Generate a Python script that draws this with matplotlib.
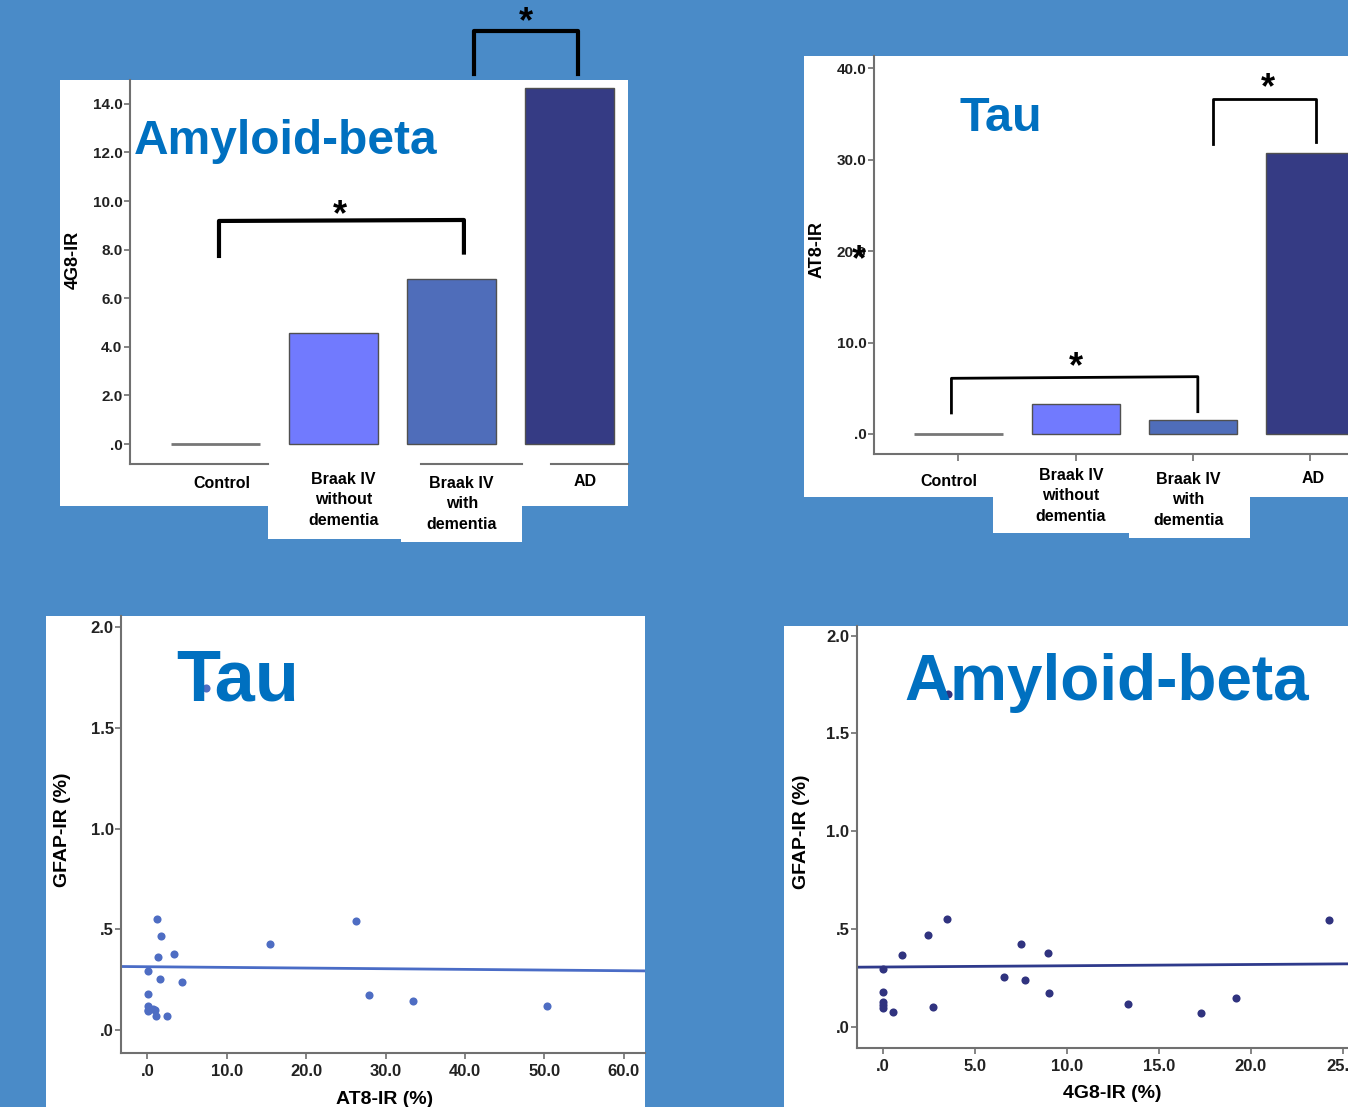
import numpy as np
import matplotlib
matplotlib.use('Agg')
import matplotlib.pyplot as plt
from matplotlib.patches import Rectangle
from matplotlib.transforms import blended_transform_factory

plt.rcParams['font.family'] = ['Liberation Sans', 'DejaVu Sans']
plt.rcParams['font.weight'] = 'bold'

# ---- data ----
grupos = ['Control', 'Braak IV\nwithout\ndementia', 'Braak IV\nwith\ndementia', 'AD']
ag_4g8 = [0.02, 4.56, 6.79, 14.66]      # 4G8-IR (amyloid-beta)
ag_at8 = [0.02, 3.25, 1.53, 30.7]       # AT8-IR (tau)
bar_colores = ['white', '#717AFE', '#4F6DBA', '#353B84']

# corchetes de significancia: (x_izq, x_der, y_arriba_izq, y_arriba_der, y_abajo_izq, y_abajo_der)
corchetes_4g8 = [(0.03, 2.108, 9.18, 9.22, 7.74, 7.88), (2.196, 3.078, 17.0, 17.0, 15.24, 15.24)]
estrellas_4g8 = [(1.055, 9.63), (2.63, 17.6)]
corchetes_at8 = [(-0.06, 2.04, 6.09, 6.27, 2.30, 2.44), (2.17, 3.05, 36.6, 36.6, 31.7, 31.9)]
estrellas_at8 = [(1.0, 7.9), (2.635, 38.4), (-0.846, 19.6)]

# scatter GFAP vs AT8
at8_x = [7.38, 1.17, 1.67, 1.38, 3.35, 0.04, 1.59, 4.32, 0.04, 0.04, 0.12, 0.74, 0.04, 1.0,
         1.08, 2.51, 15.42, 26.27, 27.95, 33.49, 50.26]
gfap_tau = [1.70, 0.551, 0.467, 0.363, 0.376, 0.295, 0.253, 0.238, 0.179, 0.119, 0.099, 0.103,
            0.092, 0.10, 0.071, 0.071, 0.426, 0.543, 0.174, 0.146, 0.119]
ajuste_tau = (0.314, -0.00033)   # intercepto, pendiente

# scatter GFAP vs 4G8
g48_x = [3.55, 0.0, 0.0, 0.0, 0.0, 0.0, 0.52, 1.02, 2.46, 2.73, 3.45, 6.6, 7.49, 7.69, 8.95,
         9.0, 13.3, 17.3, 19.22, 24.28]
gfap_ab = [1.70, 0.295, 0.179, 0.128, 0.111, 0.094, 0.074, 0.366, 0.468, 0.101, 0.551, 0.253,
           0.425, 0.236, 0.376, 0.174, 0.118, 0.072, 0.145, 0.543]
ajuste_ab = (0.305, 0.00064)

# ---- figura ----
W, H = 1348, 1107
fondo = '#4A8BC8'
titulo_color = '#0070C0'
eje_color = '#707070'
fig = plt.figure(figsize=(W / 100, H / 100), dpi=100, facecolor=fondo)


def caja(x0, y0, x1, y1):
    fig.add_artist(Rectangle((x0 / W, 1 - y1 / H), (x1 - x0) / W, (y1 - y0) / H,
                             transform=fig.transFigure, facecolor='white',
                             edgecolor='none', zorder=-5))


def ejes(x0, y0, x1, y1):
    ax = fig.add_axes([x0 / W, 1 - y1 / H, (x1 - x0) / W, (y1 - y0) / H])
    ax.patch.set_visible(False)
    for s in ['top', 'right']:
        ax.spines[s].set_visible(False)
    for s in ['left', 'bottom']:
        ax.spines[s].set_color(eje_color)
        ax.spines[s].set_linewidth(1.5)
    ax.tick_params(colors=eje_color, labelcolor='#222222', width=1.2, length=4, pad=1.5)
    return ax


def texto(x, y, s, **kw):
    fig.text(x / W, 1 - y / H, s, **kw)


def fmt(v):
    s = '%.1f' % v
    return s[1:] if s.startswith('0') else s


# cajas blancas
caja(60, 80, 628, 506); caja(268, 480, 401, 539); caja(401, 480, 522, 542)
caja(804, 56, 1348, 497); caja(993, 480, 1129, 533); caja(1129, 480, 1250, 538)
caja(46, 616, 645, 1107)
caja(784, 626, 1348, 1107)

# ---- panel 1: 4G8 barras ----
ax1 = ejes(130, 80, 628, 464)
x = np.arange(len(grupos))
ax1.bar(x, ag_4g8, width=0.755, color=bar_colores, edgecolor=['#777777', '#505050', '#505050', '#505050'],
        linewidth=[2, 1, 1, 1])
ax1.set_xlim(-0.725, 3.5)
ax1.set_ylim(-0.82, 14.98)
yt = np.arange(0, 15, 2.0)
ax1.set_yticks(yt, [fmt(v) for v in yt], fontsize=11, fontweight='bold')
ax1.set_xticks([])
ax1.spines['bottom'].set_visible(False)
for a, b in [(130, 268), (421, 522), (551, 628)]:
    ax1.plot([(a - 130) / 498, (b - 130) / 498], [0, 0], color=eje_color, lw=1.5,
             transform=ax1.transAxes, clip_on=False)
tr1 = blended_transform_factory(ax1.transData, fig.transFigure)
for i, (lab, dx, yp) in enumerate(zip(grupos, [0.055, 0.086, 0.089, 0.136], [484, 500, 504, 482])):
    ax1.text(i + dx, 1 - yp / H, lab, transform=tr1, ha='center', va='center',
             fontsize=11.5, fontweight='bold', linespacing=1.42)
for xl, xr, ytl, ytr, ybl, ybr in corchetes_4g8:
    ax1.plot([xl, xl, xr, xr], [ybl, ytl, ytr, ybr], color='black', lw=3, clip_on=False)
for xs, ys in estrellas_4g8:
    ax1.text(xs, ys - 0.25, '*', ha='center', va='center', fontsize=26, fontweight='bold')
texto(73, 260, '4G8-IR', rotation=90, ha='center', va='center', fontsize=13, fontweight='bold')
texto(134, 154, 'Amyloid-beta', color=titulo_color, fontsize=34.5, fontweight='bold', va='baseline')

# ---- panel 2: AT8 barras ----
ax2 = ejes(874, 56, 1348, 454)
ax2.bar(x, ag_at8, width=0.755, color=bar_colores, edgecolor=['#777777', '#505050', '#505050', '#505050'],
        linewidth=[2, 1, 1, 1])
ax2.set_xlim(-0.72, 3.32)
ax2.set_ylim(-2.19, 41.35)
yt = np.arange(0, 41, 10.0)
ax2.set_yticks(yt, [fmt(v) for v in yt], fontsize=11, fontweight='bold')
ax2.set_xticks(x, [''] * 4)
ax2.tick_params(axis='x', length=5)
tr2 = blended_transform_factory(ax2.transData, fig.transFigure)
for i, (lab, dx, yp) in enumerate(zip(grupos, [-0.08, -0.04, -0.04, 0.02], [481, 496, 500, 478])):
    ax2.text(i + dx, 1 - yp / H, lab, transform=tr2, ha='center', va='center',
             fontsize=11.5, fontweight='bold', linespacing=1.42)
for xl, xr, ytl, ytr, ybl, ybr in corchetes_at8:
    ax2.plot([xl, xl, xr, xr], [ybl, ytl, ytr, ybr], color='black', lw=2, clip_on=False)
for xs, ys in estrellas_at8:
    ax2.text(xs, ys - 0.66, '*', ha='center', va='center', fontsize=26, fontweight='bold', clip_on=False)
texto(817, 250, 'AT8-IR', rotation=90, ha='center', va='center', fontsize=13, fontweight='bold')
texto(959, 131, 'Tau', color=titulo_color, fontsize=35, fontweight='bold', va='baseline')

# ---- panel 3: GFAP vs AT8 ----
ax3 = ejes(121.4, 616, 645, 1052.7)
ax3.scatter(at8_x, gfap_tau, s=34, color='#4E6DC3', linewidths=0, zorder=3)
xx = np.array([-3.27, 62.66])
ax3.plot(xx, ajuste_tau[0] + ajuste_tau[1] * xx, color='#4A6CC6', lw=2)
ax3.set_xlim(-3.27, 62.66)
ax3.set_ylim(-0.113, 2.056)
yt = np.arange(0, 2.01, 0.5)
ax3.set_yticks(yt, [fmt(v) for v in yt], fontsize=12, fontweight='bold')
xt = np.arange(0, 61, 10.0)
ax3.set_xticks(xt, [fmt(v) for v in xt], fontsize=12, fontweight='bold')
ax3.tick_params(axis='x', pad=4)
texto(63, 830, 'GFAP-IR (%)', rotation=90, ha='center', va='center', fontsize=14, fontweight='bold')
texto(385, 1099, 'AT8-IR (%)', ha='center', va='center', fontsize=14, fontweight='bold')
texto(176, 700.7, 'Tau', color=titulo_color, fontsize=52, fontweight='bold', va='baseline')

# ---- panel 4: GFAP vs 4G8 ----
ax4 = ejes(857.1, 626, 1348, 1048.3)
ax4.scatter(g48_x, gfap_ab, s=34, color='#30337F', linewidths=0, zorder=3)
xx = np.array([-1.42, 25.29])
ax4.plot(xx, ajuste_ab[0] + ajuste_ab[1] * xx, color='#2F3A8C', lw=2)
ax4.set_xlim(-1.42, 25.29)
ax4.set_ylim(-0.111, 2.05)
ax4.set_yticks(yt, [fmt(v) for v in yt], fontsize=12, fontweight='bold')
xt = np.arange(0, 26, 5.0)
ax4.set_xticks(xt, [fmt(v) for v in xt], fontsize=12, fontweight='bold')
ax4.tick_params(axis='x', pad=4)
texto(802, 832, 'GFAP-IR (%)', rotation=90, ha='center', va='center', fontsize=14, fontweight='bold')
texto(1112, 1093, '4G8-IR (%)', ha='center', va='center', fontsize=14, fontweight='bold')
texto(904, 700, 'Amyloid-beta', color=titulo_color, fontsize=46, fontweight='bold', va='baseline')

fig.savefig('out.png', dpi=100, facecolor=fondo)
